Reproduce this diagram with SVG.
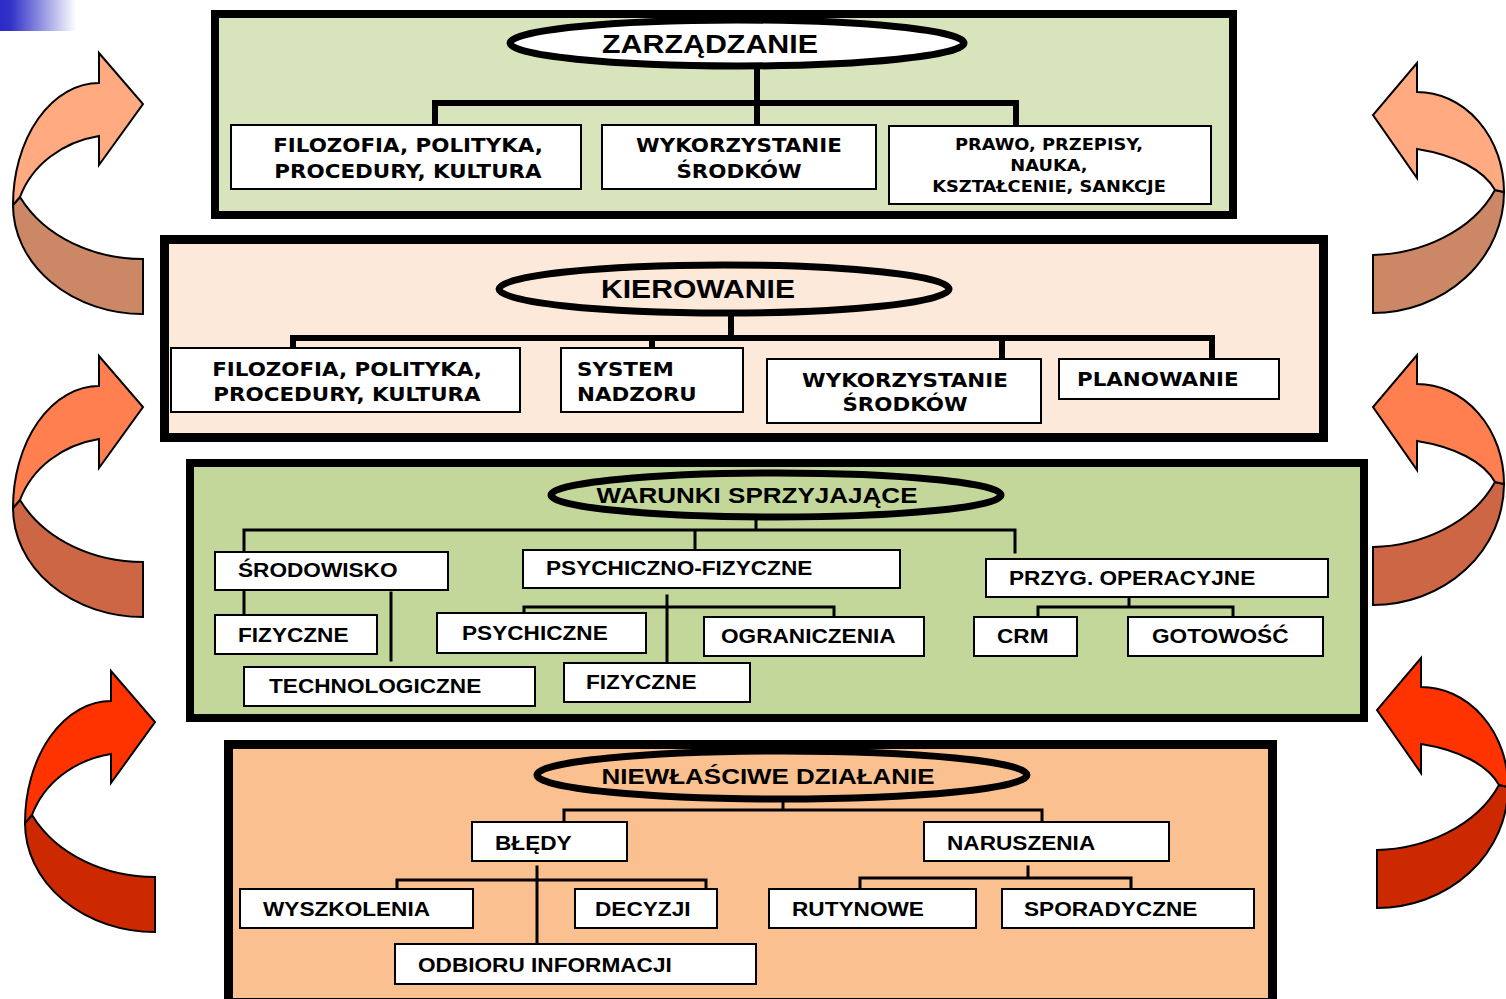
<svg xmlns="http://www.w3.org/2000/svg" width="1506" height="999" viewBox="0 0 1506 999">
<defs>
<linearGradient id="gbar" x1="0" y1="0" x2="1" y2="0">
<stop offset="0" stop-color="#2a2ac6"/>
<stop offset="0.15" stop-color="#3434c8"/>
<stop offset="1" stop-color="#ffffff"/>
</linearGradient>
<path id="laU" class="arr" d="M13,205 A86,122 0 0 1 99,83 L99,53 L143,104 L99,165 L99,136 C62,142 32,165 20,197 Z"/>
<path id="laD" class="arr" d="M20,197 C45,238 95,259 143,259 L143,314 A130,109 0 0 1 13,205 Z"/>
<path id="raU" class="arr" d="M1504,192 A87,100 0 0 0 1417,92 L1417,63 L1373,115 L1417,178 L1417,149 C1455,155 1484,170 1495,190 Z"/>
<path id="raD" class="arr" d="M1495,190 C1472,232 1420,254 1373,255 L1373,313 A131,121 0 0 0 1504,192 Z"/>
</defs>
<style>
.arr{stroke:#000;stroke-width:2;}
.panel{stroke:#000;}
.box{fill:#fff;stroke:#000;stroke-width:2;}
.head{stroke:#000;stroke-width:7;}
.ct{fill:none;stroke:#000;stroke-width:6;stroke-linecap:square;}
.cn{fill:none;stroke:#000;stroke-width:3;stroke-linecap:square;}
.hd{font-family:"Liberation Sans",Arial,sans-serif;text-anchor:middle;fill:#000;font-weight:bold;}
.v{font-family:"DejaVu Sans",Verdana,sans-serif;font-weight:bold;font-size:20px;text-anchor:middle;fill:#000;transform-box:fill-box;transform-origin:50% 50%;transform:scaleX(1.07);}
.vs{font-family:"DejaVu Sans",Verdana,sans-serif;font-weight:bold;font-size:16.5px;text-anchor:middle;fill:#000;transform-box:fill-box;transform-origin:50% 50%;transform:scaleX(1.08);}
.vl{font-family:"DejaVu Sans",Verdana,sans-serif;font-weight:bold;font-size:20px;text-anchor:start;fill:#000;transform-box:fill-box;transform-origin:0% 50%;transform:scaleX(1.07);}
.a{font-family:"Liberation Sans",Arial,sans-serif;font-weight:bold;font-size:19.5px;text-anchor:start;fill:#000;transform-box:fill-box;transform-origin:0% 50%;transform:scaleX(1.16);}
</style>

<rect x="0" y="0" width="76" height="31" fill="url(#gbar)"/>

<g id="arrows">
<g id="arrow-left-1"><use href="#laD" fill="#cc8866"/><use href="#laU" fill="#ffaa80"/></g>
<g id="arrow-left-2" transform="translate(0,303)"><use href="#laD" fill="#cc6644"/><use href="#laU" fill="#ff7f50"/></g>
<g id="arrow-left-3" transform="translate(12,618)"><use href="#laD" fill="#cc2900"/><use href="#laU" fill="#ff3300"/></g>
<g id="arrow-right-1"><use href="#raD" fill="#cc8866"/><use href="#raU" fill="#ffaa80"/></g>
<g id="arrow-right-2" transform="translate(0,292)"><use href="#raD" fill="#cc6644"/><use href="#raU" fill="#ff7f50"/></g>
<g id="arrow-right-3" transform="translate(4,595)"><use href="#raD" fill="#cc2900"/><use href="#raU" fill="#ff3300"/></g>
</g>

<g id="panels">
<rect id="panel-zarzadzanie" class="panel" x="215" y="14" width="1018" height="201" fill="#d8e4bc" stroke-width="8"/>
<rect id="panel-kierowanie" class="panel" x="164.5" y="239.5" width="1159" height="198" fill="#fde9d9" stroke-width="9"/>
<rect id="panel-warunki" class="panel" x="190" y="463" width="1174" height="255" fill="#c4d79b" stroke-width="8"/>
<rect id="panel-niewlasciwe" class="panel" x="228.5" y="744.5" width="1044" height="258" fill="#fac090" stroke-width="9"/>
</g>

<g id="connectors">
<path class="ct" d="M757,66 V125 M435,125 V103 H1016 V126"/>
<path class="ct" d="M731,316 V338 M293,348 V338 H1212 V359 M652,338 V348 M1002,338 V359"/>
<path class="cn" d="M756,517 V530 M244,552 V530 H1015 V552 M695,530 V550"/>
<path class="cn" d="M244,590 V615 M391,593 V660"/>
<path class="cn" d="M667,596 V663 M524,613 V607 H834 V617"/>
<path class="cn" d="M1129,597 V607 M1038,617 V607 H1233 V617"/>
<path class="cn" d="M783,800 V810 M564,822 V810 H1042 V822"/>
<path class="cn" d="M537,867 V944 M397,889 V880 H706 V889"/>
<path class="cn" d="M1028,867 V878 M860,889 V878 H1131 V889"/>
</g>

<g id="head-zarzadzanie"><ellipse class="head" cx="737" cy="43" rx="227" ry="23" fill="#fff"/><text class="hd" x="710" y="53" font-size="25" textLength="216" lengthAdjust="spacingAndGlyphs">ZARZĄDZANIE</text></g>
<g id="n-z-filozofia"><rect class="box" x="231" y="125" width="350" height="64"/><text class="v" x="408" y="152">FILOZOFIA, POLITYKA,</text><text class="v" x="408" y="178">PROCEDURY, KULTURA</text></g>
<g id="n-z-wykorzystanie"><rect class="box" x="602" y="125" width="274" height="64"/><text class="v" x="739" y="152">WYKORZYSTANIE</text><text class="v" x="739" y="178">ŚRODKÓW</text></g>
<g id="n-z-prawo"><rect class="box" x="889" y="126" width="322" height="78"/><text class="vs" x="1049" y="150">PRAWO, PRZEPISY,</text><text class="vs" x="1049" y="171">NAUKA,</text><text class="vs" x="1049" y="192">KSZTAŁCENIE, SANKCJE</text></g>

<g id="head-kierowanie"><ellipse class="head" cx="724" cy="289" rx="225" ry="24" fill="#fde9d9"/><text class="hd" x="698" y="298" font-size="26" textLength="194" lengthAdjust="spacingAndGlyphs">KIEROWANIE</text></g>
<g id="n-k-filozofia"><rect class="box" x="171" y="348" width="349" height="64"/><text class="v" x="347" y="376">FILOZOFIA, POLITYKA,</text><text class="v" x="347" y="401">PROCEDURY, KULTURA</text></g>
<g id="n-k-system"><rect class="box" x="561" y="348" width="182" height="64"/><text class="vl" x="577" y="376">SYSTEM</text><text class="vl" x="577" y="401">NADZORU</text></g>
<g id="n-k-wykorzystanie"><rect class="box" x="767" y="359" width="274" height="64"/><text class="v" x="905" y="387">WYKORZYSTANIE</text><text class="v" x="905" y="411">ŚRODKÓW</text></g>
<g id="n-k-planowanie"><rect class="box" x="1059" y="359" width="220" height="40"/><text class="vl" x="1077" y="386">PLANOWANIE</text></g>

<g id="head-warunki"><ellipse class="head" cx="776" cy="495" rx="225" ry="22" fill="#c4d79b"/><text class="hd" x="757" y="503" font-size="22" textLength="321" lengthAdjust="spacingAndGlyphs">WARUNKI SPRZYJAJĄCE</text></g>
<g id="n-w-srodowisko"><rect class="box" x="215" y="552" width="233" height="38"/><text class="a" x="238" y="577">ŚRODOWISKO</text></g>
<g id="n-w-psychfiz"><rect class="box" x="523" y="550" width="377" height="38"/><text class="a" x="546" y="575">PSYCHICZNO-FIZYCZNE</text></g>
<g id="n-w-przyg"><rect class="box" x="986" y="559" width="342" height="38"/><text class="a" x="1009" y="585">PRZYG. OPERACYJNE</text></g>
<g id="n-w-fizyczne1"><rect class="box" x="215" y="615" width="162" height="39"/><text class="a" x="238" y="642">FIZYCZNE</text></g>
<g id="n-w-technologiczne"><rect class="box" x="244" y="667" width="291" height="39"/><text class="a" x="269" y="693">TECHNOLOGICZNE</text></g>
<g id="n-w-psychiczne"><rect class="box" x="437" y="613" width="209" height="40"/><text class="a" x="462" y="640">PSYCHICZNE</text></g>
<g id="n-w-ograniczenia"><rect class="box" x="704" y="617" width="220" height="39"/><text class="a" x="721" y="643">OGRANICZENIA</text></g>
<g id="n-w-fizyczne2"><rect class="box" x="564" y="663" width="186" height="39"/><text class="a" x="586" y="689">FIZYCZNE</text></g>
<g id="n-w-crm"><rect class="box" x="974" y="617" width="103" height="39"/><text class="a" x="997" y="643">CRM</text></g>
<g id="n-w-gotowosc"><rect class="box" x="1128" y="617" width="195" height="39"/><text class="a" x="1152" y="643">GOTOWOŚĆ</text></g>

<g id="head-niewlasciwe"><ellipse class="head" cx="782" cy="775" rx="245" ry="24" fill="#fac090"/><text class="hd" x="768" y="784" font-size="22" textLength="333" lengthAdjust="spacingAndGlyphs">NIEWŁAŚCIWE  DZIAŁANIE</text></g>
<g id="n-n-bledy"><rect class="box" x="472" y="822" width="155" height="39"/><text class="a" x="495" y="850">BŁĘDY</text></g>
<g id="n-n-naruszenia"><rect class="box" x="924" y="822" width="245" height="39"/><text class="a" x="947" y="850">NARUSZENIA</text></g>
<g id="n-n-wyszkolenia"><rect class="box" x="240" y="889" width="233" height="39"/><text class="a" x="263" y="916">WYSZKOLENIA</text></g>
<g id="n-n-decyzji"><rect class="box" x="575" y="889" width="142" height="39"/><text class="a" x="595" y="916">DECYZJI</text></g>
<g id="n-n-odbioru"><rect class="box" x="395" y="944" width="361" height="40"/><text class="a" x="418" y="972">ODBIORU INFORMACJI</text></g>
<g id="n-n-rutynowe"><rect class="box" x="769" y="889" width="207" height="39"/><text class="a" x="792" y="916">RUTYNOWE</text></g>
<g id="n-n-sporadyczne"><rect class="box" x="1002" y="889" width="252" height="39"/><text class="a" x="1024" y="916">SPORADYCZNE</text></g>
</svg>
